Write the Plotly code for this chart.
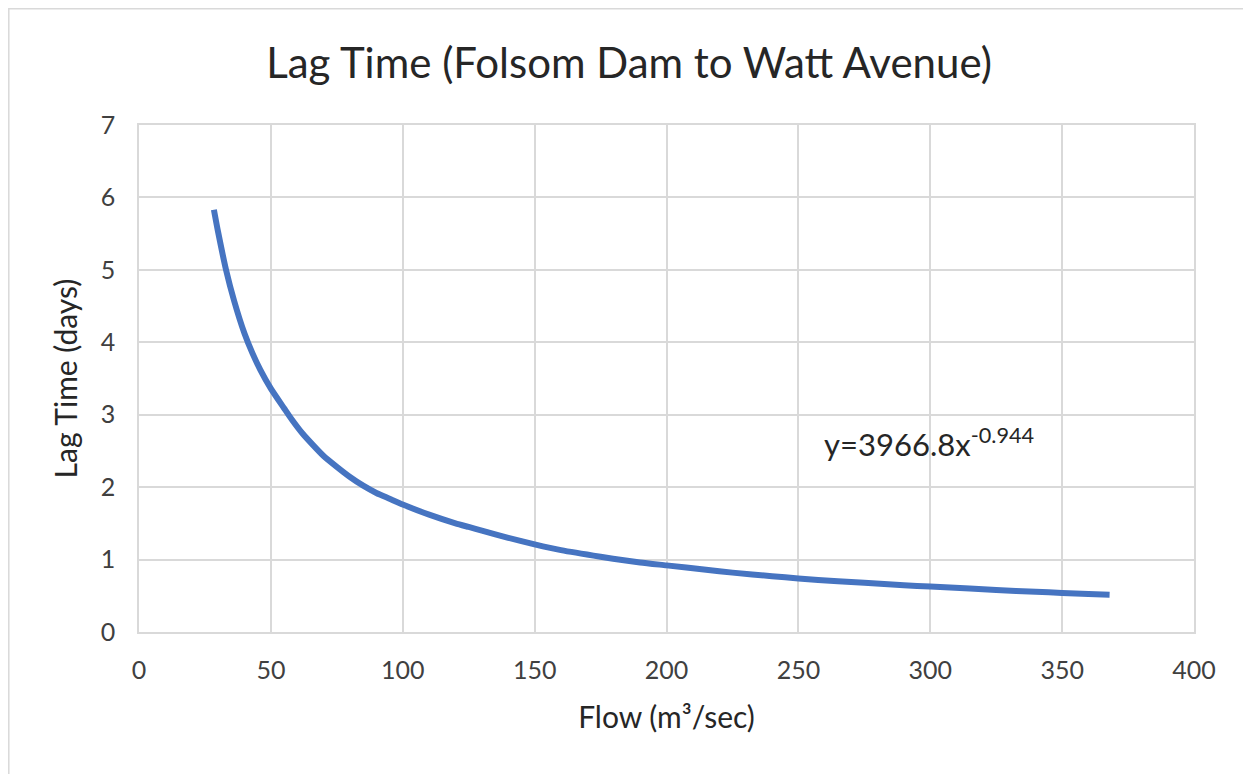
import plotly.graph_objects as go

# Data
flow = [28.4, 30, 33, 36, 40, 43, 46, 50, 55, 58, 62, 66, 70, 75, 80, 85, 90, 95, 100,
        110, 120, 125, 130, 140, 150, 160, 175, 190, 200, 215, 225, 240, 250, 265,
        275, 290, 300, 315, 325, 340, 350, 360, 368]
lag_days = [5.83, 5.52, 5.0, 4.58, 4.12, 3.85, 3.62, 3.36, 3.09, 2.93, 2.74, 2.58, 2.43,
            2.28, 2.14, 2.02, 1.92, 1.84, 1.76, 1.62, 1.5, 1.45, 1.4, 1.3, 1.21, 1.13,
            1.04, 0.96, 0.92, 0.86, 0.82, 0.77, 0.74, 0.70, 0.68, 0.645, 0.627, 0.60,
            0.58, 0.555, 0.54, 0.525, 0.515]
x_ticks = [0, 50, 100, 150, 200, 250, 300, 350, 400]
y_ticks = [0, 1, 2, 3, 4, 5, 6, 7]

title_text = "Lag Time (Folsom Dam to Watt Avenue)"
x_title = "Flow (m³/sec)"
y_title = "Lag Time (days)"
equation = "y=3966.8x<sup>-0.944</sup>"

FONT = "Lato, 'Open Sans', sans-serif"
GRID = "#D9D9D9"
TXT = "#404040"

fig = go.Figure()
fig.add_trace(go.Scatter(
    x=flow, y=lag_days, mode="lines",
    line=dict(color="#4674C1", width=6, shape="spline", smoothing=0.6),
    showlegend=False, hoverinfo="x+y",
))

fig.add_annotation(
    x=259, y=2.62, xref="x", yref="y", text=equation, showarrow=False,
    xanchor="left", yanchor="middle",
    font=dict(family=FONT, size=31, color="#262626"),
)

# page body has an 8px margin, so the figure is sized/offset to compensate
W, H = 1243, 766
L, R, T, B = 131, 57, 117, 142
pw, ph = W - L - R, H - T - B

def px_to_paper_x(px):
    return (px - L) / pw

def px_to_paper_y(py):
    return (H - B - py) / ph

fig.add_shape(
    type="rect", xref="paper", yref="paper",
    x0=px_to_paper_x(0.8), x1=px_to_paper_x(1240),
    y0=px_to_paper_y(770), y1=px_to_paper_y(0.8),
    line=dict(color="#D9D9D9", width=1.5), fillcolor="rgba(0,0,0,0)", layer="below",
)

fig.update_layout(
    width=W, height=H,
    margin=dict(l=L, r=R, t=T, b=B),
    paper_bgcolor="white", plot_bgcolor="white",
    title=dict(text=title_text, x=621 / W, xanchor="center", y=1 - 55 / H, yanchor="middle",
               xref="container", yref="container",
               font=dict(family=FONT, size=42, color="#262626")),
    font=dict(family=FONT, color=TXT),
)
fig.update_xaxes(
    range=[0, 400], tickvals=x_ticks, ticktext=[str(v) for v in x_ticks],
    showgrid=True, gridcolor=GRID, gridwidth=1.5,
    showline=True, linecolor=GRID, linewidth=1.5, mirror=True,
    zeroline=False, ticks="", ticklabelstandoff=15,
    tickfont=dict(family=FONT, size=25, color=TXT),
    title=dict(text=x_title, font=dict(family=FONT, size=30, color="#262626"), standoff=24),
)
fig.update_yaxes(
    range=[0, 7], tickvals=y_ticks, ticktext=[str(v) for v in y_ticks],
    showgrid=True, gridcolor=GRID, gridwidth=1.5,
    showline=True, linecolor=GRID, linewidth=1.5, mirror=True,
    zeroline=False, ticks="", ticklabelstandoff=17,
    tickfont=dict(family=FONT, size=25, color=TXT),
    title=dict(text=y_title, font=dict(family=FONT, size=30, color="#262626"), standoff=14),
)

fig.write_html("out.html")
